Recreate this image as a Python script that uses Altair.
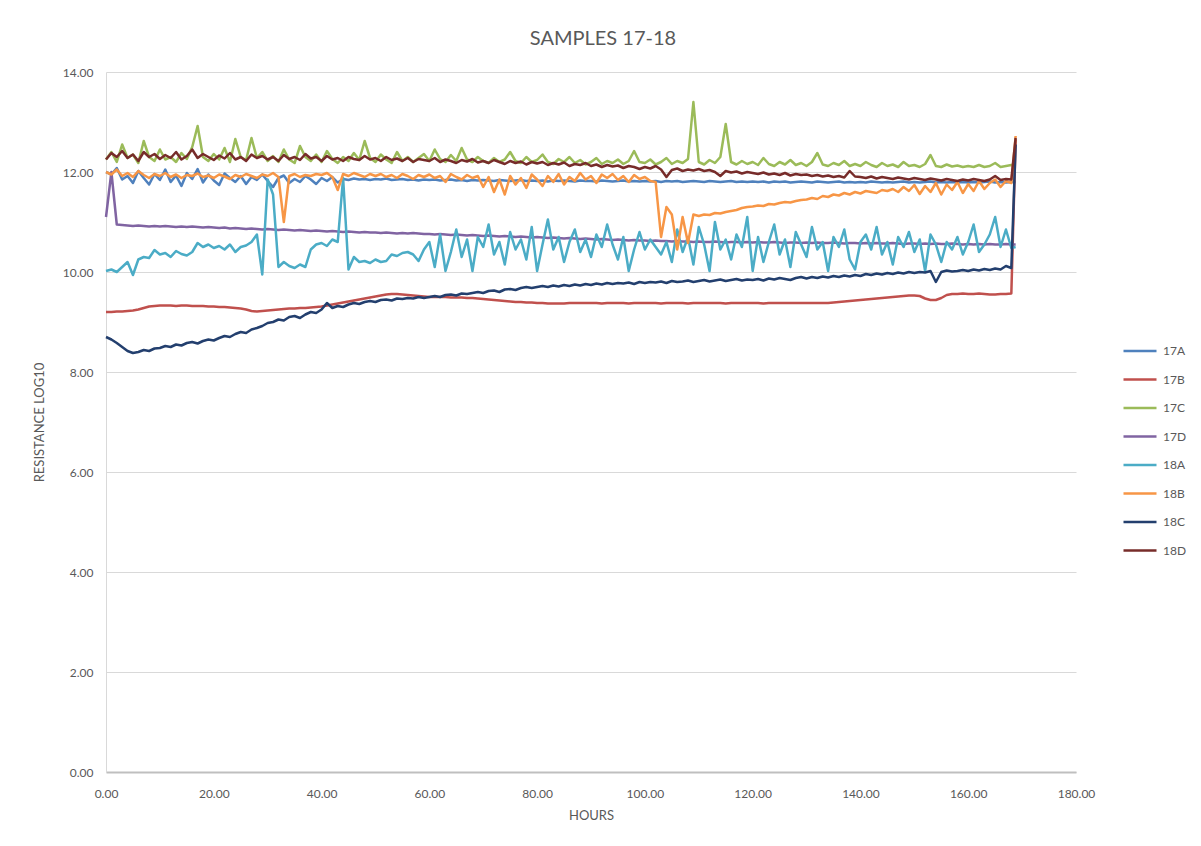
import altair as alt
import pandas as pd

HOURS = list(range(169)) + [168.8]

NAMES = ["17A", "17B", "17C", "17D", "18A", "18B", "18C", "18D"]
COLORS = ["#4F81BD", "#C0504D", "#9BBB59", "#8064A2", "#4BACC6", "#F79646", "#233F6E", "#772C2A"]

S17A = [
    12.00, 11.95, 12.08, 11.85, 11.92, 11.78, 12.02, 11.88, 11.75, 11.96,
    11.84, 12.05, 11.80, 11.93, 11.72, 11.98, 11.86, 12.06, 11.79, 11.95,
    11.83, 11.74, 11.97, 11.88, 11.80, 11.92, 11.76, 11.90, 11.84, 11.95,
    11.82, 11.70, 11.88, 11.93, 11.78, 11.86, 11.80, 11.92, 11.85, 11.76,
    11.88, 11.82, 11.90, 11.79, 11.86, 11.84, 11.87, 11.85, 11.86, 11.84,
    11.86, 11.85, 11.87, 11.84, 11.85, 11.86, 11.84, 11.85, 11.83, 11.85,
    11.84, 11.85, 11.83, 11.84, 11.85, 11.83, 11.84, 11.82, 11.84, 11.83,
    11.84, 11.83, 11.82, 11.84, 11.83, 11.82, 11.83, 11.84, 11.82, 11.83,
    11.82, 11.83, 11.81, 11.83, 11.82, 11.83, 11.82, 11.81, 11.83, 11.82,
    11.82, 11.81, 11.83, 11.82, 11.81, 11.82, 11.83, 11.81, 11.82, 11.81,
    11.82, 11.81, 11.82, 11.80, 11.82, 11.81, 11.82, 11.80, 11.81, 11.82,
    11.81, 11.80, 11.82, 11.81, 11.80, 11.81, 11.82, 11.80, 11.81, 11.80,
    11.81, 11.80, 11.81, 11.79, 11.81, 11.80, 11.81, 11.79, 11.80, 11.81,
    11.80, 11.79, 11.81, 11.80, 11.79, 11.80, 11.81, 11.79, 11.80, 11.79,
    11.80, 11.79, 11.81, 11.80, 11.79, 11.80, 11.79, 11.80, 11.81, 11.79,
    11.80, 11.79, 11.80, 11.81, 11.79, 11.80, 11.79, 11.80, 11.79, 11.80,
    11.79, 11.80, 11.79, 11.80, 11.81, 11.79, 11.80, 11.79, 11.80,
    11.80,
]

S17B = [
    9.20, 9.20, 9.21, 9.21, 9.22, 9.23, 9.25, 9.28, 9.31, 9.32,
    9.33, 9.33, 9.33, 9.32, 9.33, 9.33, 9.32, 9.32, 9.32, 9.31,
    9.31, 9.30, 9.30, 9.29, 9.28, 9.27, 9.25, 9.22, 9.21, 9.22,
    9.23, 9.24, 9.25, 9.26, 9.27, 9.27, 9.28, 9.28, 9.29, 9.30,
    9.31, 9.33, 9.35, 9.37, 9.39, 9.41, 9.43, 9.45, 9.47, 9.49,
    9.51, 9.53, 9.55, 9.56, 9.56, 9.55, 9.54, 9.53, 9.52, 9.51,
    9.50, 9.50, 9.50, 9.50, 9.49, 9.49, 9.49, 9.48, 9.48, 9.47,
    9.46, 9.45, 9.44, 9.43, 9.42, 9.41, 9.40, 9.40, 9.39, 9.39,
    9.38, 9.38, 9.37, 9.37, 9.37, 9.37, 9.38, 9.38, 9.38, 9.38,
    9.38, 9.38, 9.37, 9.38, 9.38, 9.38, 9.38, 9.37, 9.38, 9.38,
    9.38, 9.38, 9.38, 9.37, 9.38, 9.38, 9.38, 9.38, 9.37, 9.38,
    9.38, 9.38, 9.38, 9.38, 9.38, 9.37, 9.38, 9.38, 9.38, 9.38,
    9.38, 9.38, 9.37, 9.38, 9.38, 9.38, 9.38, 9.38, 9.38, 9.38,
    9.38, 9.38, 9.38, 9.38, 9.38, 9.39, 9.40, 9.41, 9.42, 9.43,
    9.44, 9.45, 9.46, 9.47, 9.48, 9.49, 9.50, 9.51, 9.52, 9.53,
    9.53, 9.52, 9.47, 9.44, 9.44, 9.48, 9.54, 9.56, 9.56, 9.57,
    9.56, 9.56, 9.57, 9.56, 9.55, 9.55, 9.56, 9.56, 9.57,
    12.65,
]

S17C = [
    12.25, 12.40, 12.20, 12.55, 12.28, 12.35, 12.18, 12.62, 12.30, 12.22,
    12.45, 12.25, 12.30, 12.20, 12.38, 12.26, 12.50, 12.92, 12.30, 12.22,
    12.36, 12.25, 12.48, 12.20, 12.66, 12.30, 12.24, 12.68, 12.28, 12.40,
    12.22, 12.32, 12.20, 12.45, 12.25, 12.18, 12.52, 12.30, 12.22, 12.35,
    12.20, 12.42, 12.26, 12.18, 12.30, 12.22, 12.38, 12.24, 12.62, 12.28,
    12.20, 12.35, 12.25, 12.18, 12.40, 12.22, 12.30, 12.20, 12.28, 12.36,
    12.22, 12.45, 12.26, 12.20, 12.34, 12.22, 12.48, 12.25, 12.20, 12.30,
    12.22, 12.18, 12.28, 12.20, 12.25, 12.40, 12.22, 12.18, 12.30, 12.20,
    12.24, 12.35, 12.20, 12.16, 12.26, 12.20, 12.30, 12.18, 12.24, 12.15,
    12.20, 12.28, 12.16, 12.22, 12.18, 12.25, 12.16, 12.22, 12.42, 12.20,
    12.18, 12.25, 12.15, 12.20, 12.28, 12.16, 12.22, 12.18, 12.26, 13.40,
    12.20, 12.15, 12.24, 12.18, 12.30, 12.96, 12.20, 12.15, 12.22, 12.16,
    12.20, 12.14, 12.28, 12.16, 12.12, 12.20, 12.15, 12.24, 12.14, 12.18,
    12.12, 12.20, 12.38, 12.15, 12.12, 12.18, 12.14, 12.22, 12.12, 12.16,
    12.12, 12.20, 12.14, 12.10, 12.18, 12.12, 12.15, 12.10, 12.20, 12.12,
    12.14, 12.10, 12.16, 12.34, 12.12, 12.10, 12.15, 12.11, 12.13, 12.10,
    12.12, 12.10, 12.14, 12.10, 12.12, 12.18, 12.10, 12.12, 12.14,
    12.12,
]

S17D = [
    11.10, 12.00, 10.95, 10.94, 10.93, 10.92, 10.93, 10.92, 10.91, 10.92,
    10.91, 10.92, 10.91, 10.90, 10.91, 10.90, 10.91, 10.90, 10.89, 10.90,
    10.89, 10.88, 10.89, 10.87, 10.88, 10.87, 10.86, 10.87, 10.86, 10.85,
    10.86, 10.85, 10.84, 10.85, 10.84, 10.83, 10.84, 10.83, 10.82, 10.83,
    10.82, 10.81, 10.82, 10.81, 10.80, 10.81, 10.80, 10.79, 10.80, 10.79,
    10.79, 10.78, 10.79, 10.78, 10.77, 10.78, 10.77, 10.78, 10.77, 10.76,
    10.76, 10.75, 10.76, 10.75, 10.74, 10.75, 10.74, 10.73, 10.74, 10.73,
    10.72, 10.73, 10.72, 10.71, 10.72, 10.71, 10.70, 10.71, 10.70, 10.69,
    10.70, 10.69, 10.68, 10.69, 10.68, 10.67, 10.68, 10.67, 10.66, 10.67,
    10.66, 10.65, 10.66, 10.65, 10.64, 10.65, 10.64, 10.63, 10.64, 10.63,
    10.63, 10.62, 10.63, 10.62, 10.62, 10.61, 10.62, 10.61, 10.61, 10.60,
    10.61, 10.60, 10.60, 10.61, 10.60, 10.59, 10.60, 10.60, 10.59, 10.60,
    10.59, 10.60, 10.59, 10.59, 10.60, 10.59, 10.58, 10.59, 10.59, 10.58,
    10.59, 10.58, 10.59, 10.58, 10.58, 10.59, 10.58, 10.57, 10.58, 10.58,
    10.57, 10.58, 10.57, 10.58, 10.57, 10.57, 10.58, 10.57, 10.56, 10.57,
    10.57, 10.56, 10.57, 10.56, 10.57, 10.56, 10.56, 10.57, 10.56, 10.55,
    10.56, 10.55, 10.56, 10.55, 10.56, 10.55, 10.55, 10.56, 10.55,
    10.55,
]

S18A = [
    10.02, 10.05, 10.00, 10.10, 10.20, 9.94, 10.25, 10.30, 10.28, 10.44,
    10.35, 10.38, 10.30, 10.42, 10.36, 10.33, 10.40, 10.58, 10.50, 10.55,
    10.48, 10.52, 10.45, 10.55, 10.40, 10.50, 10.53, 10.60, 10.75, 9.95,
    11.85, 11.55, 10.10, 10.20, 10.12, 10.08, 10.15, 10.10, 10.45, 10.55,
    10.58, 10.52, 10.65, 10.60, 11.88, 10.05, 10.30, 10.20, 10.22, 10.18,
    10.25, 10.20, 10.22, 10.35, 10.32, 10.38, 10.40, 10.35, 10.22, 10.45,
    10.60, 10.10, 10.75, 10.02, 10.40, 10.85, 10.30, 10.65, 10.02, 10.70,
    10.50, 10.95, 10.35, 10.60, 10.15, 10.80, 10.45, 10.65, 10.25, 10.90,
    10.02, 10.55, 11.05, 10.45, 10.70, 10.20, 10.60, 10.85, 10.40, 10.65,
    10.30, 10.75, 10.50, 10.95, 10.55, 10.25, 10.70, 10.02, 10.45, 10.80,
    10.45, 10.65, 10.50, 10.35, 10.60, 10.20, 10.85, 10.40, 10.70, 10.15,
    10.90, 10.55, 10.02, 11.00, 10.45, 10.65, 10.25, 10.75, 10.50, 11.10,
    10.02, 10.70, 10.20, 10.60, 10.95, 10.35, 10.65, 10.10, 10.80, 10.55,
    10.30, 10.90, 10.45, 10.60, 10.02, 10.70, 10.50, 10.85, 10.25, 10.05,
    10.60, 10.75, 10.45, 10.90, 10.35, 10.60, 10.15, 10.70, 10.50, 10.80,
    10.40, 10.65, 10.02, 10.75, 10.55, 10.20, 10.60, 10.45, 10.70, 10.35,
    10.60, 10.95, 10.40, 10.55, 10.75, 11.10, 10.50, 10.85, 10.48,
    10.50,
]

S18B = [
    12.00, 11.95, 12.05, 11.92, 11.98, 11.90, 12.02, 11.94, 11.88, 11.96,
    11.92, 11.98, 11.90, 11.95, 11.88, 11.94, 11.92, 11.97, 11.90, 11.93,
    11.88, 11.95, 11.91, 11.86, 11.94, 11.90, 11.96, 11.92, 11.88, 11.95,
    11.92, 11.98, 11.90, 11.00, 11.92, 11.96, 11.90, 11.94, 11.92, 11.96,
    11.94, 11.98, 11.90, 11.64, 11.96, 11.92, 11.98, 11.94, 11.90, 11.96,
    11.92, 11.96, 11.90, 11.94, 11.88, 11.96, 11.92, 11.86, 11.94, 11.90,
    11.95, 11.88, 11.92, 11.80, 11.96, 11.90, 11.85, 11.94, 11.88, 11.92,
    11.70, 11.90, 11.60, 11.85, 11.55, 11.92, 11.75, 11.88, 11.68, 11.95,
    11.85, 11.72, 11.92, 11.80, 11.96, 11.75, 11.90, 11.82, 11.98, 11.85,
    11.92, 11.78, 11.95, 11.88, 11.96, 11.84, 11.92, 11.80, 11.94, 11.86,
    11.90, 11.82, 11.80, 10.70, 11.30, 11.15, 10.45, 11.10, 10.58, 11.15,
    11.12, 11.15, 11.14, 11.18, 11.17, 11.20, 11.22, 11.24, 11.28, 11.30,
    11.31, 11.33, 11.32, 11.36, 11.35, 11.38, 11.40, 11.39, 11.42, 11.44,
    11.45, 11.48, 11.46, 11.52, 11.50, 11.55, 11.53, 11.58, 11.55, 11.60,
    11.57, 11.62, 11.60, 11.58, 11.64, 11.62, 11.66, 11.60, 11.70, 11.62,
    11.74, 11.56, 11.72, 11.60, 11.78, 11.55, 11.75, 11.64, 11.80, 11.58,
    11.76, 11.62, 11.82, 11.66, 11.78, 11.85, 11.70, 11.82, 11.78,
    12.72,
]

S18C = [
    8.70, 8.65, 8.58, 8.50, 8.42, 8.38, 8.40, 8.44, 8.42, 8.47,
    8.48, 8.52, 8.50, 8.55, 8.53, 8.58, 8.60, 8.57, 8.62, 8.65,
    8.63, 8.68, 8.72, 8.70, 8.76, 8.80, 8.78, 8.85, 8.88, 8.92,
    8.98, 9.00, 9.05, 9.03, 9.10, 9.12, 9.08, 9.15, 9.20, 9.18,
    9.25, 9.38, 9.28, 9.32, 9.30, 9.35, 9.38, 9.36, 9.40, 9.42,
    9.40, 9.44, 9.45, 9.43, 9.47, 9.46, 9.48, 9.47, 9.50, 9.48,
    9.50, 9.52, 9.50, 9.54, 9.55, 9.53, 9.57, 9.56, 9.58, 9.60,
    9.58, 9.62, 9.63, 9.60, 9.65, 9.66, 9.64, 9.68, 9.70, 9.68,
    9.70, 9.72, 9.70, 9.73, 9.71, 9.74, 9.72, 9.75, 9.73, 9.76,
    9.74, 9.77, 9.75, 9.78, 9.76, 9.78, 9.77, 9.79, 9.76, 9.80,
    9.78, 9.80, 9.79, 9.81, 9.78, 9.82, 9.80, 9.81, 9.83, 9.80,
    9.82, 9.84, 9.81, 9.83, 9.85, 9.82, 9.84, 9.86, 9.83, 9.85,
    9.84, 9.86, 9.83, 9.87, 9.85, 9.88, 9.86, 9.84, 9.88, 9.90,
    9.87, 9.90, 9.88, 9.91, 9.89, 9.92, 9.90, 9.93, 9.91, 9.94,
    9.92, 9.96, 9.94, 9.97, 9.95, 9.98, 9.96, 9.99, 9.97, 10.00,
    9.98, 10.00, 9.99, 10.02, 9.80, 10.00, 10.03, 10.01, 10.02, 10.04,
    10.02, 10.05, 10.03, 10.06, 10.04, 10.07, 10.05, 10.12, 10.08,
    12.55,
]

S18D = [
    12.25, 12.38, 12.30, 12.42, 12.28, 12.35, 12.22, 12.40, 12.30, 12.36,
    12.26, 12.34, 12.28, 12.40, 12.25, 12.32, 12.45, 12.28, 12.36, 12.30,
    12.24, 12.33, 12.27, 12.38, 12.25, 12.30, 12.22, 12.35, 12.28, 12.32,
    12.25, 12.30, 12.22, 12.34, 12.26, 12.30, 12.24, 12.36, 12.27, 12.30,
    12.22, 12.32, 12.25, 12.28, 12.22, 12.30, 12.26, 12.24, 12.32, 12.25,
    12.28, 12.22, 12.30, 12.24, 12.27, 12.22, 12.28, 12.20, 12.26, 12.24,
    12.22, 12.28, 12.20, 12.25, 12.22, 12.18, 12.24, 12.21, 12.26, 12.19,
    12.22, 12.18, 12.24, 12.20, 12.16, 12.22, 12.18, 12.21, 12.15, 12.20,
    12.17, 12.20, 12.14, 12.18, 12.15, 12.19, 12.12, 12.16, 12.14, 12.18,
    12.12, 12.15, 12.10, 12.14, 12.11, 12.13, 12.08, 12.12, 12.10, 12.06,
    12.10, 12.07, 12.12, 12.05, 11.90, 12.04, 12.07, 12.02, 12.05, 12.03,
    12.06, 12.02, 12.04, 12.00, 11.92, 12.02, 11.99, 12.01, 11.97, 12.00,
    11.98, 11.96, 11.99, 11.95, 11.97, 11.94, 11.98, 11.93, 11.96, 11.94,
    11.95, 11.92, 11.94, 11.91, 11.93, 11.90, 11.92, 11.89, 12.02, 11.91,
    11.90, 11.88, 11.91, 11.87, 11.90, 11.88, 11.86, 11.89, 11.87, 11.85,
    11.88, 11.86, 11.84, 11.87, 11.85, 11.83, 11.86, 11.84, 11.82, 11.85,
    11.83, 11.86, 11.84, 11.82, 11.85, 11.92, 11.84, 11.86, 11.85,
    12.68,
]

SERIES = [S17A, S17B, S17C, S17D, S18A, S18B, S18C, S18D]

X_TICKS = [0, 20, 40, 60, 80, 100, 120, 140, 160, 180]
Y_TICKS = [0, 2, 4, 6, 8, 10, 12, 14]

rows = []
for name, vals in zip(NAMES, SERIES):
    assert len(vals) == len(HOURS), (name, len(vals))
    for h, v in zip(HOURS, vals):
        rows.append({"series": name, "hours": h, "value": v})
df = pd.DataFrame(rows)

FONT = "Lato"
GREY = "#595959"

chart = (
    alt.Chart(df)
    .mark_line(strokeWidth=2.5, strokeJoin="round")
    .encode(
        x=alt.X(
            "hours:Q",
            scale=alt.Scale(domain=[0, 180], nice=False),
            axis=alt.Axis(
                title="HOURS",
                values=X_TICKS,
                format=".2f",
                grid=False,
                ticks=False,
                labelFlush=False,
                domainColor="#BFBFBF",
                domainWidth=2,
                labelPadding=16,
                titlePadding=10,
            ),
        ),
        y=alt.Y(
            "value:Q",
            scale=alt.Scale(domain=[0, 14], nice=False),
            axis=alt.Axis(
                title="RESISTANCE LOG10",
                values=Y_TICKS,
                format=".2f",
                grid=True,
                gridColor="#D9D9D9",
                ticks=False,
                labelFlush=False,
                domainColor="#D9D9D9",
                labelPadding=13,
                titlePadding=16,
            ),
        ),
        color=alt.Color(
            "series:N",
            scale=alt.Scale(domain=NAMES, range=COLORS),
            legend=alt.Legend(
                title=None,
                orient="none",
                legendX=1016,
                legendY=261,
                symbolType="stroke",
                symbolSize=1089,
                symbolStrokeWidth=2.5,
                rowPadding=4.5,
                labelOffset=5,
                labelFontSize=12,
                labelColor=GREY,
                labelFont=FONT,
            ),
        ),
        order=alt.Order("hours:Q"),
    )
    .properties(
        width=970,
        height=700,
        title=alt.TitleParams(
            "SAMPLES 17-18",
            fontSize=20,
            font=FONT,
            fontWeight="normal",
            color=GREY,
            anchor="middle",
            offset=17,
            dx=12,
        ),
        autosize=alt.AutoSizeParams(type="none"),
        padding={"left": 98, "top": 64, "right": 117, "bottom": 66},
    )
    .configure_view(stroke=None)
    .configure_axis(
        labelFont=FONT,
        labelFontSize=12,
        labelColor=GREY,
        titleFont=FONT,
        titleFontSize=13,
        titleFontWeight="normal",
        titleColor=GREY,
    )
)

chart.save("out.html", embed_options={"renderer": "svg", "actions": False})
